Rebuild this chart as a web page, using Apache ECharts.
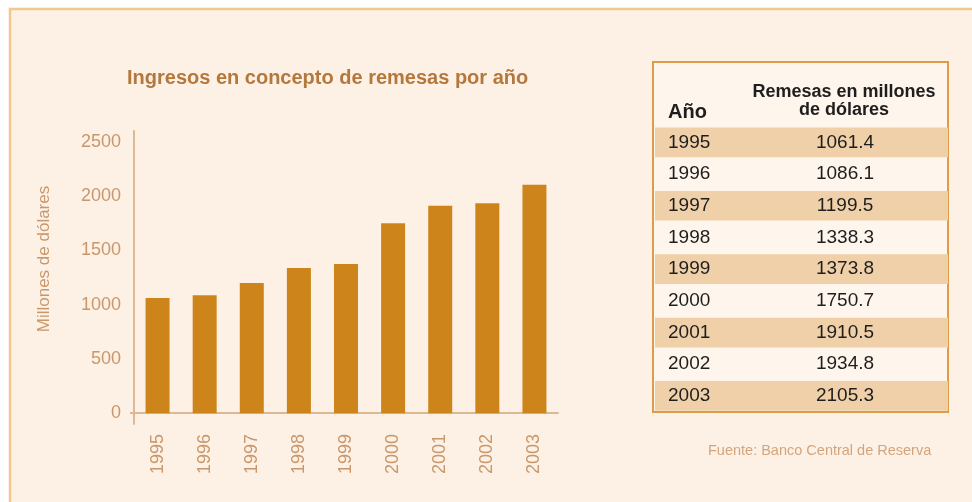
<!DOCTYPE html>
<html>
<head>
<meta charset="utf-8">
<script src="https://cdn.jsdelivr.net/npm/echarts@6/dist/echarts.min.js"></script>
<style>
    html, body { margin: 0; padding: 0; background: #ffffff; }
    #chart { width: 972px; height: 502px; }
</style>
</head>
<body>
<div id="chart"></div>
<script>
// datos
const years = ['1995', '1996', '1997', '1998', '1999', '2000', '2001', '2002', '2003'];
const remesas = [1061.4, 1086.1, 1199.5, 1338.3, 1373.8, 1750.7, 1910.5, 1934.8, 2105.3];
const yTicks = [0, 500, 1000, 1500, 2000, 2500];
const remesasText = ['1061.4', '1086.1', '1199.5', '1338.3', '1373.8', '1750.7', '1910.5', '1934.8', '2105.3'];

const font = '"Liberation Sans", Arial, sans-serif';
const brown = '#c9976a';

// tabla a la derecha (graphic)
const tableX = 653, tableY = 62, tableW = 295, tableH = 350;
const rowTop = 126.5, rowH = 31.7;

const tableEls = [];
tableEls.push({
    type: 'rect', z: 1,
    shape: { x: tableX, y: tableY, width: tableW, height: tableH },
    style: { fill: '#fef5ec', stroke: '#dc9c48', lineWidth: 2 }
});
years.forEach((y, i) => {
    const top = rowTop + i * rowH;
    if (i % 2 === 0) {
        tableEls.push({
            type: 'rect', z: 2,
            shape: { x: tableX + 2, y: top + 1, width: tableW - 2, height: rowH - 2 },
            style: { fill: '#efd0a8' }
        });
    }
    tableEls.push({
        type: 'text', z: 3, x: 668, y: top + rowH / 2,
        style: { text: y, font: '19px ' + font, fill: '#1e1e1e', verticalAlign: 'middle' }
    });
    tableEls.push({
        type: 'text', z: 3, x: 845, y: top + rowH / 2,
        style: { text: remesasText[i], font: '19px ' + font, fill: '#1e1e1e', align: 'center', verticalAlign: 'middle' }
    });
});
tableEls.push(
    { type: 'text', z: 3, x: 668, y: 112,
      style: { text: 'Año', font: 'bold 20px ' + font, fill: '#1e1e1e', verticalAlign: 'middle' } },
    { type: 'text', z: 3, x: 844, y: 92,
      style: { text: 'Remesas en millones', font: 'bold 18px ' + font, fill: '#1e1e1e', align: 'center', verticalAlign: 'middle' } },
    { type: 'text', z: 3, x: 844, y: 110,
      style: { text: 'de dólares', font: 'bold 18px ' + font, fill: '#1e1e1e', align: 'center', verticalAlign: 'middle' } },
    { type: 'text', z: 3, x: 708, y: 451,
      style: { text: 'Fuente: Banco Central de Reserva', font: '14.5px ' + font, fill: '#d4a57c', verticalAlign: 'middle' } }
);

const mychart = echarts.init(document.getElementById('chart'));
mychart.setOption({
    backgroundColor: '#ffffff',
    animation: false,
    title: {
        text: 'Ingresos en concepto de remesas por año',
        left: 127,
        top: 68,
        padding: 0,
        textStyle: { color: '#b4773c', fontSize: 20, fontWeight: 'bold', fontFamily: font }
    },
    grid: { left: 134, top: 131, width: 424, height: 293 },
    xAxis: {
        type: 'category',
        data: years,
        axisLine: { onZero: true, lineStyle: { color: '#dcb896', width: 2 } },
        axisTick: { show: false },
        axisLabel: { rotate: 90, margin: 10, color: brown, fontSize: 18, fontFamily: font }
    },
    yAxis: {
        type: 'value',
        min: -100,
        max: 2600,
        name: 'Millones de dólares',
        nameLocation: 'middle',
        nameGap: 81,
        nameTextStyle: { color: brown, fontSize: 17, fontFamily: font, padding: [0, 0, 0, 37] },
        axisLine: { show: true, lineStyle: { color: '#dcb896', width: 2 } },
        axisTick: { show: true, customValues: [0], length: 4, lineStyle: { color: '#dcb896', width: 2 } },
        axisLabel: {
            customValues: yTicks, margin: 13, color: brown, fontSize: 18, fontFamily: font,
            formatter: (v) => String(v)
        },
        splitLine: { show: false }
    },
    series: [{
        type: 'bar',
        data: remesas,
        barWidth: 24,
        itemStyle: { color: '#cd851b' }
    }],
    graphic: [
        {
            type: 'rect', z: -10, silent: true,
            shape: { x: 10, y: 9, width: 980, height: 500 },
            style: { fill: '#fdf1e6', stroke: '#f0c890', lineWidth: 2.5 }
        }
    ].concat(tableEls)
});
</script>
</body>
</html>
